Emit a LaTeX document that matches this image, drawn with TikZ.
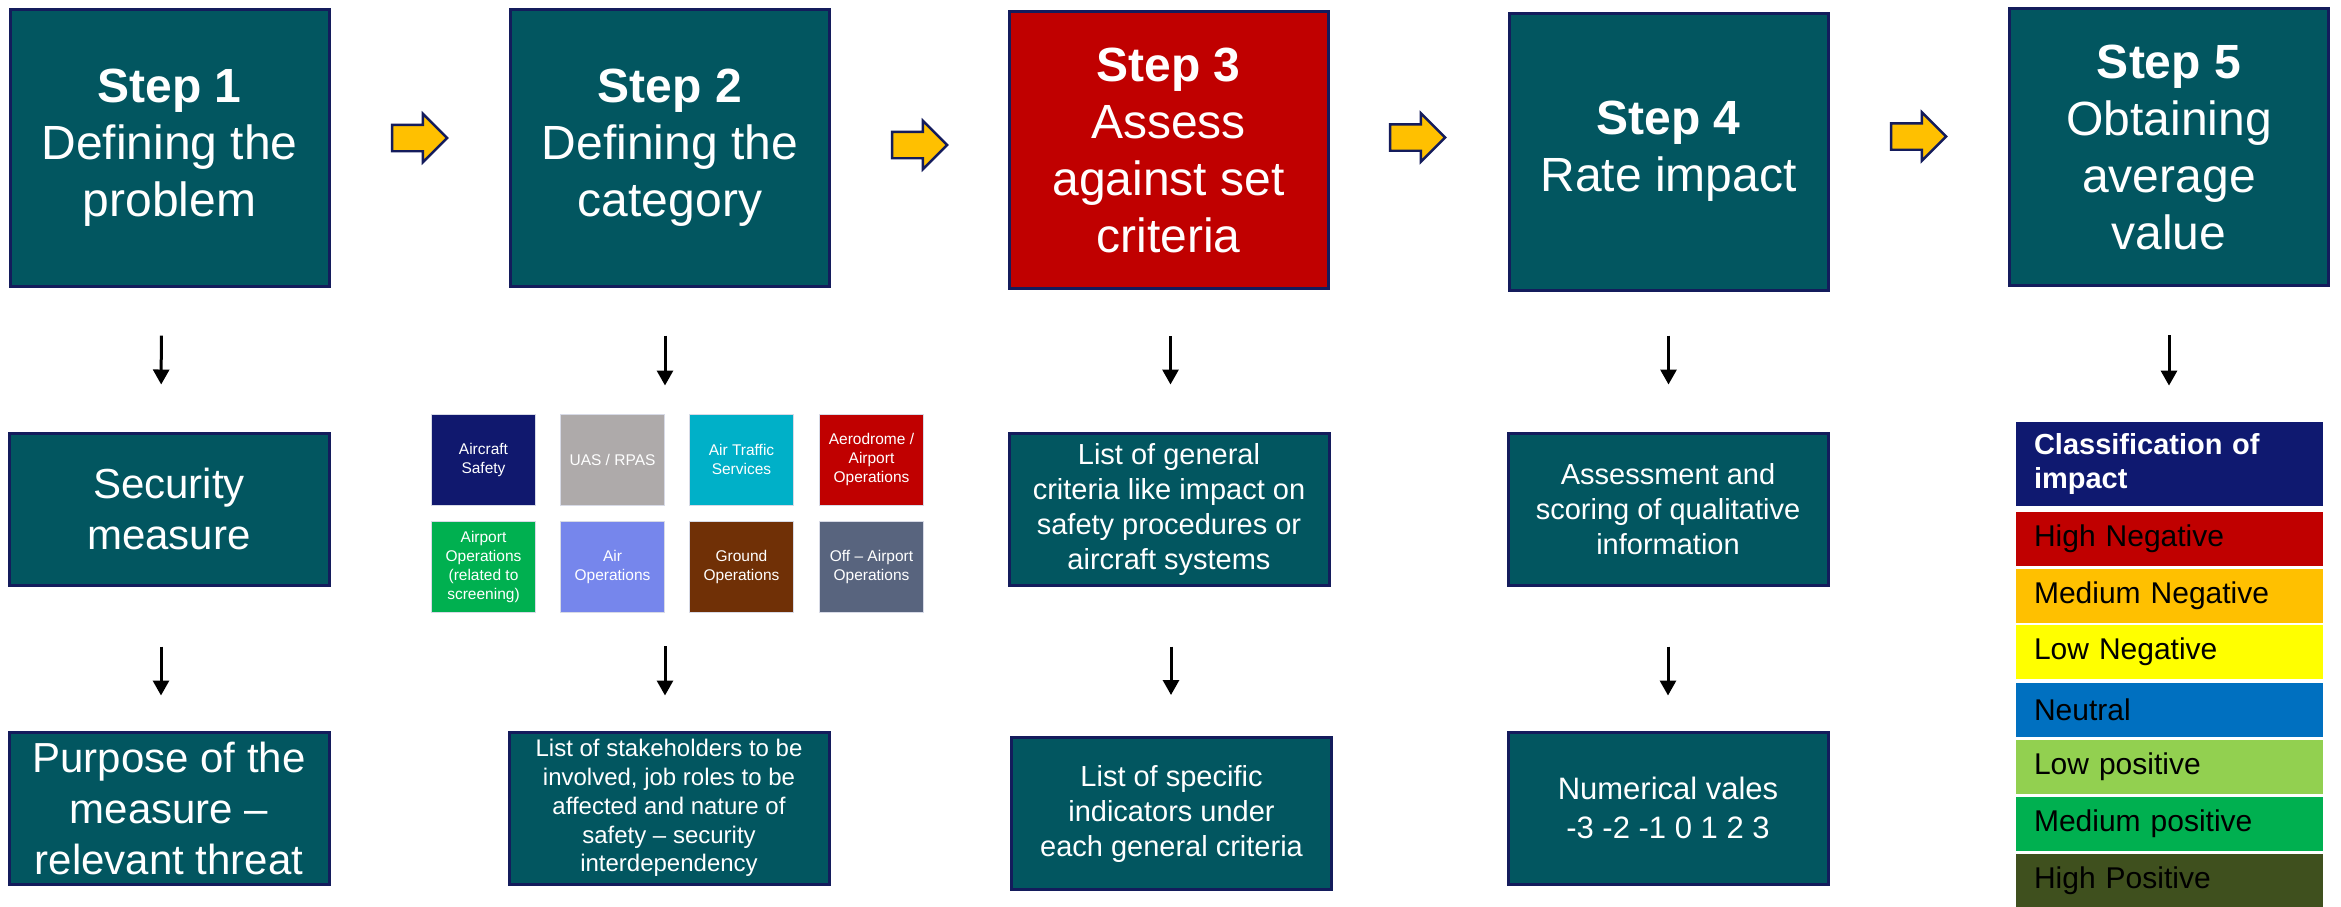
\documentclass[tikz,border=0pt]{standalone}
\usepackage{fontspec}
\setmainfont{Liberation Sans}
\usepackage{tikz}
\usetikzlibrary{shapes.arrows,arrows.meta}

\begin{document}
\begin{tikzpicture}[x=0.5pt,y=0.5pt,yscale=-1,xscale=1,
    stepbox/.style={draw={rgb, 255:red, 20; green, 28; blue, 92 }, line width=1.5pt, fill={rgb, 255:red, 2; green, 86; blue, 96 }, text=white, align=center, inner sep=2pt, minimum width=159.5pt, minimum height=138.5pt, font=\fontsize{24}{28.5}\selectfont},
    infobox/.style={draw={rgb, 255:red, 20; green, 28; blue, 92 }, line width=1.5pt, fill={rgb, 255:red, 2; green, 86; blue, 96 }, text=white, align=center, inner sep=1pt, minimum width=160pt, minimum height=76pt},
    catbox/.style={draw={rgb, 255:red, 215; green, 218; blue, 230 }, line width=0.5pt, text=white, align=center, inner sep=1pt, minimum width=52pt, minimum height=45.5pt, font=\fontsize{7.75}{9.5}\selectfont},
    clsbar/.style={align=left, text width=135.5pt, inner xsep=9pt, inner ysep=0pt, minimum height=27pt, font=\fontsize{15}{17}\selectfont},
    yarrow/.style={single arrow, draw={rgb, 255:red, 20; green, 28; blue, 92 }, fill={rgb, 255:red, 255; green, 192; blue, 0 }, line width=1.2pt, inner xsep=0pt, inner ysep=6pt, minimum height=27.5pt, minimum width=23pt, single arrow head extend=5.5pt},
    dnarr/.style={-{Triangle[length=7.5pt,width=8pt]}, line width=1.5pt}]

        %uncomment if require: \path (0,906);
        \path[fill=white] (0,0) rectangle (2341,906);
        \useasboundingbox (0,0) rectangle (2341,906);

        %Shape: Rectangle (steps)
        \node[stepbox] (s1) at (169.5,147.5) {\textbf{Step 1}\\Defining the\\problem};
        \node[stepbox] (s2) at (670,147.5) {\textbf{Step 2}\\Defining the\\category};
        \node[stepbox, fill={rgb, 255:red, 192; green, 0; blue, 0 }] (s3) at (1168.5,150) {\textbf{Step 3}\\Assess\\against set\\criteria};
        \node[stepbox] (s4) at (1668.5,151.5) {\textbf{Step 4}\\Rate impact};
        \node[stepbox] (s5) at (2169,147) {\textbf{Step 5}\\Obtaining\\average\\value};

        %Shape: Right Arrow
        \node[yarrow] (a12) at (413,138) {};
        \node[yarrow] (a23) at (913,145) {};
        \node[yarrow] (a34) at (1411,137.5) {};
        \node[yarrow] (a45) at (1912,136.5) {};

        % Text Node (second row)
        \node[infobox, font=\fontsize{21}{25.5}\selectfont] (m1) at (169,509) {Security\\measure};
        \node[infobox, font=\fontsize{14.5}{17.5}\selectfont] (m3) at (1169,509) {List of general\\criteria like impact on\\safety procedures or\\aircraft systems};
        \node[infobox, font=\fontsize{14.5}{17.5}\selectfont] (m4) at (1668,509) {Assessment and\\scoring of qualitative\\information};

        %Shape: Rectangle (categories)
        \node[catbox, fill={rgb, 255:red, 16; green, 24; blue, 110 }] (c1) at (483.5,459.5) {Aircraft\\Safety};
        \node[catbox, fill={rgb, 255:red, 174; green, 170; blue, 170 }] (c2) at (612.5,459.5) {UAS / RPAS};
        \node[catbox, fill={rgb, 255:red, 0; green, 176; blue, 200 }] (c3) at (741.5,459.5) {Air Traffic\\Services};
        \node[catbox, fill={rgb, 255:red, 192; green, 0; blue, 0 }] (c4) at (871.5,459.5) {Aerodrome /\\Airport\\Operations};
        \node[catbox, fill={rgb, 255:red, 0; green, 176; blue, 80 }] (c5) at (483.5,567) {Airport\\Operations\\(related to\\screening)};
        \node[catbox, fill={rgb, 255:red, 118; green, 134; blue, 236 }] (c6) at (612.5,567) {Air\\Operations};
        \node[catbox, fill={rgb, 255:red, 112; green, 48; blue, 6 }] (c7) at (741.5,567) {Ground\\Operations};
        \node[catbox, fill={rgb, 255:red, 88; green, 100; blue, 126 }] (c8) at (871.5,567) {Off -- Airport\\Operations};

        % Text Node (third row)
        \node[infobox, font=\fontsize{21}{25.5}\selectfont] (b1) at (169,808) {Purpose of the\\measure --\\relevant threat};
        \node[infobox, font=\fontsize{12}{14.4}\selectfont] (b2) at (669,808) {List of stakeholders to be\\involved, job roles to be\\affected and nature of\\safety -- security\\interdependency};
        \node[infobox, font=\fontsize{14.5}{17.5}\selectfont] (b3) at (1171.5,813.5) {List of specific\\indicators under\\each general criteria};
        \node[infobox, font=\fontsize{15.5}{19.5}\selectfont] (b4) at (1668,808) {Numerical vales\\-3 -2 -1 0 1 2 3};

        %Shape: Rectangle (classification)
        \node[clsbar, minimum height=42pt, fill={rgb, 255:red, 15; green, 25; blue, 112 }, text=white, font=\bfseries\fontsize{14.5}{17}\selectfont] (cls) at (2169.5,464) {Classification of\\impact};
        \node[clsbar, fill={rgb, 255:red, 192; green, 0; blue, 0 }] (k1) at (2169.5,539) {High Negative};
        \node[clsbar, fill={rgb, 255:red, 255; green, 192; blue, 0 }] (k2) at (2169.5,595.5) {Medium Negative};
        \node[clsbar, fill={rgb, 255:red, 255; green, 255; blue, 0 }] (k3) at (2169.5,652) {Low Negative};
        \node[clsbar, fill={rgb, 255:red, 0; green, 112; blue, 192 }] (k4) at (2169.5,709.5) {Neutral};
        \node[clsbar, fill={rgb, 255:red, 146; green, 208; blue, 80 }] (k5) at (2169.5,766.5) {Low positive};
        \node[clsbar, fill={rgb, 255:red, 0; green, 176; blue, 80 }] (k6) at (2169.5,824) {Medium positive};
        \node[clsbar, fill={rgb, 255:red, 63; green, 80; blue, 30 }] (k7) at (2169.5,881) {High Positive};

        %Straight Lines (down arrows)
        \draw[dnarr, shorten <=24pt, shorten >=23.5pt] ([xshift=-4pt]s1.south) -- ([xshift=-4pt]m1.north);
        \draw[dnarr, shorten <=30pt, shorten >=17.5pt] ([xshift=-4pt]m1.south) -- ([xshift=-4pt]b1.north);
        \draw[dnarr, shorten <=24pt, shorten >=14pt] ([xshift=-2.5pt]s2.south) -- ([xshift=-2.5pt]s2.south |- c1.north);
        \draw[dnarr, shorten <=16.5pt, shorten >=17.5pt] ([xshift=-2pt]b2.north |- c5.south) -- ([xshift=-2pt]b2.north);
        \draw[dnarr, shorten <=23pt, shorten >=23.5pt] ([xshift=1pt]s3.south) -- ([xshift=1pt]s3.south |- m3.north);
        \draw[dnarr, shorten <=30pt, shorten >=20.5pt] ([xshift=1pt]m3.south) -- ([xshift=1pt]m3.south |- b3.north);
        \draw[dnarr, shorten <=22pt, shorten >=23.5pt] (s4.south) -- (s4.south |- m4.north);
        \draw[dnarr, shorten <=30pt, shorten >=17.5pt] (m4.south) -- (b4.north);
        \draw[dnarr, shorten <=24pt, shorten >=18pt] (s5.south) -- (s5.south |- cls.north);

\end{tikzpicture}
\end{document}
